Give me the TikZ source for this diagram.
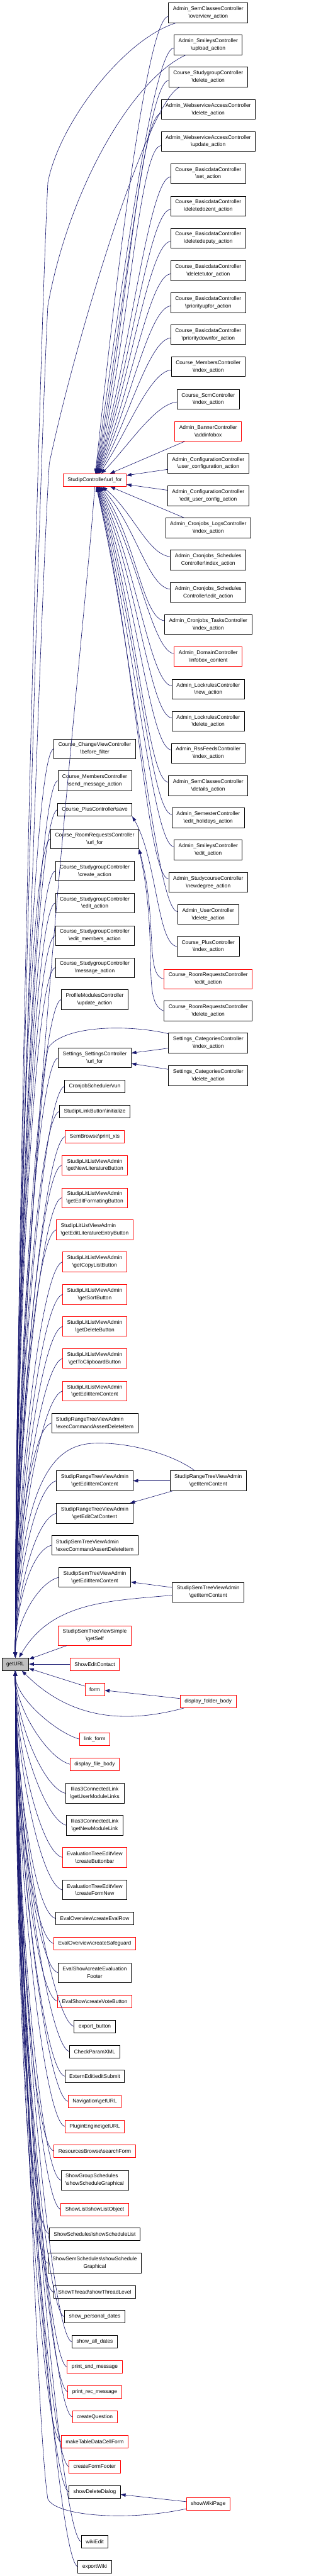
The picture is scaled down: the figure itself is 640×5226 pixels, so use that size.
\documentclass[tikz,border=0pt]{standalone}
\usepackage{fontspec}
\setmainfont{Liberation Sans}
\usetikzlibrary{arrows.meta}
\definecolor{edgeblue}{HTML}{191970}
\definecolor{boxgray}{HTML}{BFBFBF}
\newcommand{\bsl}{\textbackslash}

\begin{document}
\begin{tikzpicture}[x=1pt, y=1pt,
  fn/.style={draw=black, fill=white, line width=1pt, inner xsep=9pt, inner ysep=2pt,
    align=center, font=\fontsize{10.7}{15}\selectfont, minimum height=25.5pt},
  fnn/.style={fn, minimum height=40pt},
  hot/.style={draw=red},
  call/.style={draw=edgeblue, line width=0.8pt, -{Triangle[length=10pt,width=7pt]}}]
  \fill[white] (0,0) rectangle (640,-5226);
  \useasboundingbox (0,0) rectangle (640,-5226);

  % Right column:
  \node[fnn] (ovw) at (422,-26) {Admin\_SemClassesController\\\bsl overview\_action};
  \node[fnn] (upl) at (422,-91) {Admin\_SmileysController\\\bsl upload\_action};
  \node[fnn] (sgdel) at (422,-156) {Course\_StudygroupController\\\bsl delete\_action};
  \node[fnn] (wsdel) at (422,-222) {Admin\_WebserviceAccessController\\\bsl delete\_action};
  \node[fnn] (wsupd) at (422,-287) {Admin\_WebserviceAccessController\\\bsl update\_action};
  \node[fnn] (bdset) at (422,-352) {Course\_BasicdataController\\\bsl set\_action};
  \node[fnn] (bddoz) at (422,-418) {Course\_BasicdataController\\\bsl deletedozent\_action};
  \node[fnn] (bddep) at (422,-483) {Course\_BasicdataController\\\bsl deletedeputy\_action};
  \node[fnn] (bdtut) at (422,-549) {Course\_BasicdataController\\\bsl deletetutor\_action};
  \node[fnn] (bdup) at (422,-614) {Course\_BasicdataController\\\bsl priorityupfor\_action};
  \node[fnn] (bddown) at (422,-679) {Course\_BasicdataController\\\bsl prioritydownfor\_action};
  \node[fnn] (memidx) at (422,-744) {Course\_MembersController\\\bsl index\_action};
  \node[fnn] (scmidx) at (422,-810) {Course\_ScmController\\\bsl index\_action};
  \node[fnn, hot] (banner) at (422,-875) {Admin\_BannerController\\\bsl addinfobox};
  \node[fnn] (cfguser) at (422,-940) {Admin\_ConfigurationController\\\bsl user\_configuration\_action};
  \node[fnn] (cfgedit) at (422,-1006) {Admin\_ConfigurationController\\\bsl edit\_user\_config\_action};
  \node[fnn] (cjlogs) at (422,-1071) {Admin\_Cronjobs\_LogsController\\\bsl index\_action};
  \node[fnn] (cjsidx) at (422,-1136) {Admin\_Cronjobs\_Schedules\\Controller\bsl index\_action};
  \node[fnn] (cjsedit) at (422,-1202) {Admin\_Cronjobs\_Schedules\\Controller\bsl edit\_action};
  \node[fnn] (cjtasks) at (422,-1267) {Admin\_Cronjobs\_TasksController\\\bsl index\_action};
  \node[fnn, hot] (domain) at (422,-1332) {Admin\_DomainController\\\bsl infobox\_content};
  \node[fnn] (lrnew) at (422,-1398) {Admin\_LockrulesController\\\bsl new\_action};
  \node[fnn] (lrdel) at (422,-1463) {Admin\_LockrulesController\\\bsl delete\_action};
  \node[fnn] (rss) at (422,-1528) {Admin\_RssFeedsController\\\bsl index\_action};
  \node[fnn] (scdet) at (422,-1594) {Admin\_SemClassesController\\\bsl details\_action};
  \node[fnn] (semhol) at (422,-1659) {Admin\_SemesterController\\\bsl edit\_holidays\_action};
  \node[fnn] (smedit) at (422,-1724) {Admin\_SmileysController\\\bsl edit\_action};
  \node[fnn] (scnew) at (422,-1790) {Admin\_StudycourseController\\\bsl newdegree\_action};
  \node[fnn] (usrdel) at (422,-1855) {Admin\_UserController\\\bsl delete\_action};
  \node[fnn] (plusidx) at (422,-1920) {Course\_PlusController\\\bsl index\_action};
  \node[fnn, hot] (rredit) at (422,-1986) {Course\_RoomRequestsController\\\bsl edit\_action};
  \node[fnn] (rrdel) at (422,-2051) {Course\_RoomRequestsController\\\bsl delete\_action};
  \node[fnn] (catidx) at (422,-2116) {Settings\_CategoriesController\\\bsl index\_action};
  \node[fnn] (catdel) at (422,-2182) {Settings\_CategoriesController\\\bsl delete\_action};
  \node[fnn] (rtitem) at (422,-3004) {StudipRangeTreeViewAdmin\\\bsl getItemContent};
  \node[fnn] (stitem) at (422,-3230) {StudipSemTreeViewAdmin\\\bsl getItemContent};
  \node[fn, hot] (folder) at (422,-3452) {display\_folder\_body};
  \node[fn, hot] (wikipage) at (422,-5080) {showWikiPage};

  % Middle column:
  \node[fn, hot] (urlfor) at (192,-974) {StudipController\bsl url\_for};
  \node[fnn] (cvbefore) at (192,-1519) {Course\_ChangeViewController\\\bsl before\_filter};
  \node[fnn] (memsend) at (192,-1584) {Course\_MembersController\\\bsl send\_message\_action};
  \node[fn] (plussave) at (192,-1643) {Course\_PlusController\bsl save};
  \node[fnn] (rrurl) at (192,-1702) {Course\_RoomRequestsController\\\bsl url\_for};
  \node[fnn] (sgcreate) at (192,-1767) {Course\_StudygroupController\\\bsl create\_action};
  \node[fnn] (sgedit) at (192,-1832) {Course\_StudygroupController\\\bsl edit\_action};
  \node[fnn] (sgmem) at (192,-1898) {Course\_StudygroupController\\\bsl edit\_members\_action};
  \node[fnn] (sgmsg) at (192,-1963) {Course\_StudygroupController\\\bsl message\_action};
  \node[fnn] (profupd) at (192,-2028) {ProfileModulesController\\\bsl update\_action};
  \node[fnn] (seturl) at (192,-2146) {Settings\_SettingsController\\\bsl url\_for};
  \node[fn] (cronrun) at (192,-2204) {CronjobScheduler\bsl run};
  \node[fn] (linkbtn) at (192,-2255) {Studip\bsl LinkButton\bsl initialize};
  \node[fn, hot] (printxts) at (192,-2306) {SemBrowse\bsl print\_xts};
  \node[fnn, hot] (litnew) at (192,-2364) {StudipLitListViewAdmin\\\bsl getNewLiteratureButton};
  \node[fnn, hot] (litfmt) at (192,-2430) {StudipLitListViewAdmin\\\bsl getEditFormatingButton};
  \node[fnn, hot, align=left] (litentry) at (192,-2495) {StudipLitListViewAdmin\\\bsl getEditLiteratureEntryButton};
  \node[fnn, hot] (litcopy) at (192,-2560) {StudipLitListViewAdmin\\\bsl getCopyListButton};
  \node[fnn, hot] (litsort) at (192,-2626) {StudipLitListViewAdmin\\\bsl getSortButton};
  \node[fnn, hot] (litdel) at (192,-2691) {StudipLitListViewAdmin\\\bsl getDeleteButton};
  \node[fnn, hot] (litclip) at (192,-2756) {StudipLitListViewAdmin\\\bsl getToClipboardButton};
  \node[fnn, hot] (litedit) at (192,-2822) {StudipLitListViewAdmin\\\bsl getEditItemContent};
  \node[fnn, align=left] (rtexec) at (192,-2887) {StudipRangeTreeViewAdmin\\\bsl execCommandAssertDeleteItem};
  \node[fnn] (rtedit) at (192,-3004) {StudipRangeTreeViewAdmin\\\bsl getEditItemContent};
  \node[fnn] (rtcat) at (192,-3070) {StudipRangeTreeViewAdmin\\\bsl getEditCatContent};
  \node[fnn, align=left] (stexec) at (192,-3135) {StudipSemTreeViewAdmin\\\bsl execCommandAssertDeleteItem};
  \node[fnn] (stedit) at (192,-3200) {StudipSemTreeViewAdmin\\\bsl getEditItemContent};
  \node[fnn, hot] (stself) at (192,-3318) {StudipSemTreeViewSimple\\\bsl getSelf};
  \node[fn, hot] (contact) at (192,-3376) {ShowEditContact};
  \node[fn, hot] (form) at (192,-3427) {form};
  \node[fn, hot] (linkform) at (192,-3528) {link\_form};
  \node[fn, hot] (filebody) at (192,-3579) {display\_file\_body};
  \node[fnn] (iluser) at (192,-3638) {Ilias3ConnectedLink\\\bsl getUserModuleLinks};
  \node[fnn] (ilnew) at (192,-3703) {Ilias3ConnectedLink\\\bsl getNewModuleLink};
  \node[fnn, hot] (etbar) at (192,-3768) {EvaluationTreeEditView\\\bsl createButtonbar};
  \node[fnn] (etform) at (192,-3834) {EvaluationTreeEditView\\\bsl createFormNew};
  \node[fn] (evrow) at (192,-3892) {EvalOverview\bsl createEvalRow};
  \node[fn, hot] (evsafe) at (192,-3943) {EvalOverview\bsl createSafeguard};
  \node[fnn] (esfoot) at (192,-4002) {EvalShow\bsl createEvaluation\\Footer};
  \node[fn, hot] (esvote) at (192,-4060) {EvalShow\bsl createVoteButton};
  \node[fn] (expbtn) at (192,-4111) {export\_button};
  \node[fn] (chkxml) at (192,-4162) {CheckParamXML};
  \node[fn] (extsub) at (192,-4212) {ExternEdit\bsl editSubmit};
  \node[fn, hot] (navurl) at (192,-4263) {Navigation\bsl getURL};
  \node[fn, hot] (plgurl) at (192,-4314) {PluginEngine\bsl getURL};
  \node[fn, hot] (resform) at (192,-4364) {ResourcesBrowse\bsl searchForm};
  \node[fnn, align=left] (grpsched) at (192,-4423) {ShowGroupSchedules\\\bsl showScheduleGraphical};
  \node[fn, hot] (listobj) at (192,-4482) {ShowList\bsl showListObject};
  \node[fn] (schedlist) at (192,-4532) {ShowSchedules\bsl showScheduleList};
  \node[fnn] (semsched) at (192,-4591) {ShowSemSchedules\bsl showSchedule\\Graphical};
  \node[fn] (thread) at (192,-4650) {ShowThread\bsl showThreadLevel};
  \node[fn] (persdates) at (192,-4700) {show\_personal\_dates};
  \node[fn] (alldates) at (192,-4751) {show\_all\_dates};
  \node[fn, hot] (sndmsg) at (192,-4802) {print\_snd\_message};
  \node[fn, hot] (recmsg) at (192,-4852) {print\_rec\_message};
  \node[fn, hot] (question) at (192,-4903) {createQuestion};
  \node[fn, hot] (tablecell) at (192,-4954) {makeTableDataCellForm};
  \node[fn, hot] (formfoot) at (192,-5004) {createFormFooter};
  \node[fn] (deldlg) at (192,-5055) {showDeleteDialog};
  \node[fn] (wikiedit) at (192,-5156) {wikiEdit};
  \node[fn] (expwiki) at (192,-5207) {exportWiki};

  % The function itself:
  \node[fn, fill=boxgray] (geturl) at (31,-3376) {getURL};

  % Calls into url_for:
  \foreach \n/\a/\d in {ovw/84/365,upl/82/340,sgdel/80/315,wsdel/78/290,wsupd/76/265,
      bdset/74/240,bddoz/72/215,bddep/70/190,bdtut/67/165,bdup/64/140,bddown/60/115,
      memidx/55/92,scmidx/45/72}
    \draw[call] (\n) to[out=185, in=\a, out distance=45pt, in distance=\d pt] (urlfor);
  \foreach \n in {banner,cfguser,cfgedit,cjlogs}
    \draw[call] (\n) -- (urlfor);
  \foreach \n/\a/\d in {cjsidx/-40/80,cjsedit/-48/105,cjtasks/-54/125,domain/-59/150,
      lrnew/-63/170,lrdel/-66/195,rss/-69/220,scdet/-71/245,semhol/-73/270,
      smedit/-75/295,scnew/-76/320,usrdel/-77/345}
    \draw[call] (\n) to[out=175, in=\a, out distance=45pt, in distance=\d pt] (urlfor);

  % Other calls on the right:
  \draw[call] (plusidx.west) to[out=175, in=-60, out distance=40pt, in distance=100pt] (plussave.south east);
  \draw[call] (rredit.west) to[out=170, in=-75, out distance=40pt, in distance=150pt] (rrurl.south east);
  \draw[call] (rrdel.west) to[out=160, in=-78, out distance=50pt, in distance=200pt] (rrurl.south east);
  \draw[call] (catidx) -- (seturl);
  \draw[call] (catdel) -- (seturl);
  \draw[call] (rtitem) -- (rtedit);
  \draw[call] (rtitem) -- (rtcat);
  \draw[call] (stitem) -- (stedit);
  \draw[call] (folder) -- (form);
  \draw[call] (wikipage) -- (deldlg);

  % Calls into getURL:
  \draw[call] (ovw) .. controls (250,-80) and (120,-250) .. (97,-370)
    .. controls (80,-700) and (31,-2600) .. (geturl.north);
  \draw[call] (upl) .. controls (270,-160) and (140,-380) .. (97,-620)
    .. controls (82,-900) and (31,-2600) .. (geturl.north);
  \draw[call] (sgdel) .. controls (300,-200) and (150,-700) .. (100,-940)
    .. controls (88,-1100) and (31,-2600) .. (geturl.north);
  \draw[call] (urlfor.south) .. controls (175,-1250) and (31,-2500) .. (geturl.north);
  \draw[call] (catidx) .. controls (260,-2078) and (130,-2080) .. (98,-2125)
    .. controls (80,-2200) and (31,-2900) .. (geturl.north);
  \draw[call] (rtitem) .. controls (350,-2950) and (260,-2925) .. (190,-2928)
    .. controls (120,-2931) and (40,-2980) .. (geturl.north);
  \draw[call] (stitem) to[out=185, in=60, distance=130pt] (geturl);
  \draw[call] (folder) to[out=195, in=-45, distance=133pt] (geturl);
  \draw[call] (wikipage) .. controls (260,-5115) and (115,-5105) .. (97,-5070)
    .. controls (70,-4900) and (40,-3700) .. (geturl.south);
  \foreach \n/\d in {cvbefore/740,memsend/712,plussave/690,rrurl/665,sgcreate/640,
      sgedit/613,sgmem/586,sgmsg/560,profupd/534,seturl/487,cronrun/464,linkbtn/444,
      printxts/423,litnew/400,litfmt/374,litentry/348,litcopy/322,litsort/295,
      litdel/269,litclip/243,litedit/217,rtexec/191,rtedit/144,rtcat/118,stexec/92,
      stedit/66}
    \draw[call] (\n.west) .. controls +(-45,-12) and +(0,\d) .. (geturl.north);
  \foreach \n in {stself,contact,form}
    \draw[call] (\n) -- (geturl);
  \foreach \n/\d in {linkform/56,filebody/76,iluser/100,ilnew/126,etbar/152,etform/178,
      evrow/201,evsafe/222,esfoot/245,esvote/268,expbtn/289,chkxml/309,extsub/329,
      navurl/350,plgurl/370,resform/390,grpsched/414,listobj/437,schedlist/457,
      semsched/481,thread/504,persdates/524,alldates/545,sndmsg/565,recmsg/585,
      question/606,tablecell/626,formfoot/646,deldlg/666,wikiedit/707,expwiki/727}
    \draw[call] (\n.west) .. controls +(-45,12) and +(0,-\d) .. (geturl.south);
\end{tikzpicture}
\end{document}
